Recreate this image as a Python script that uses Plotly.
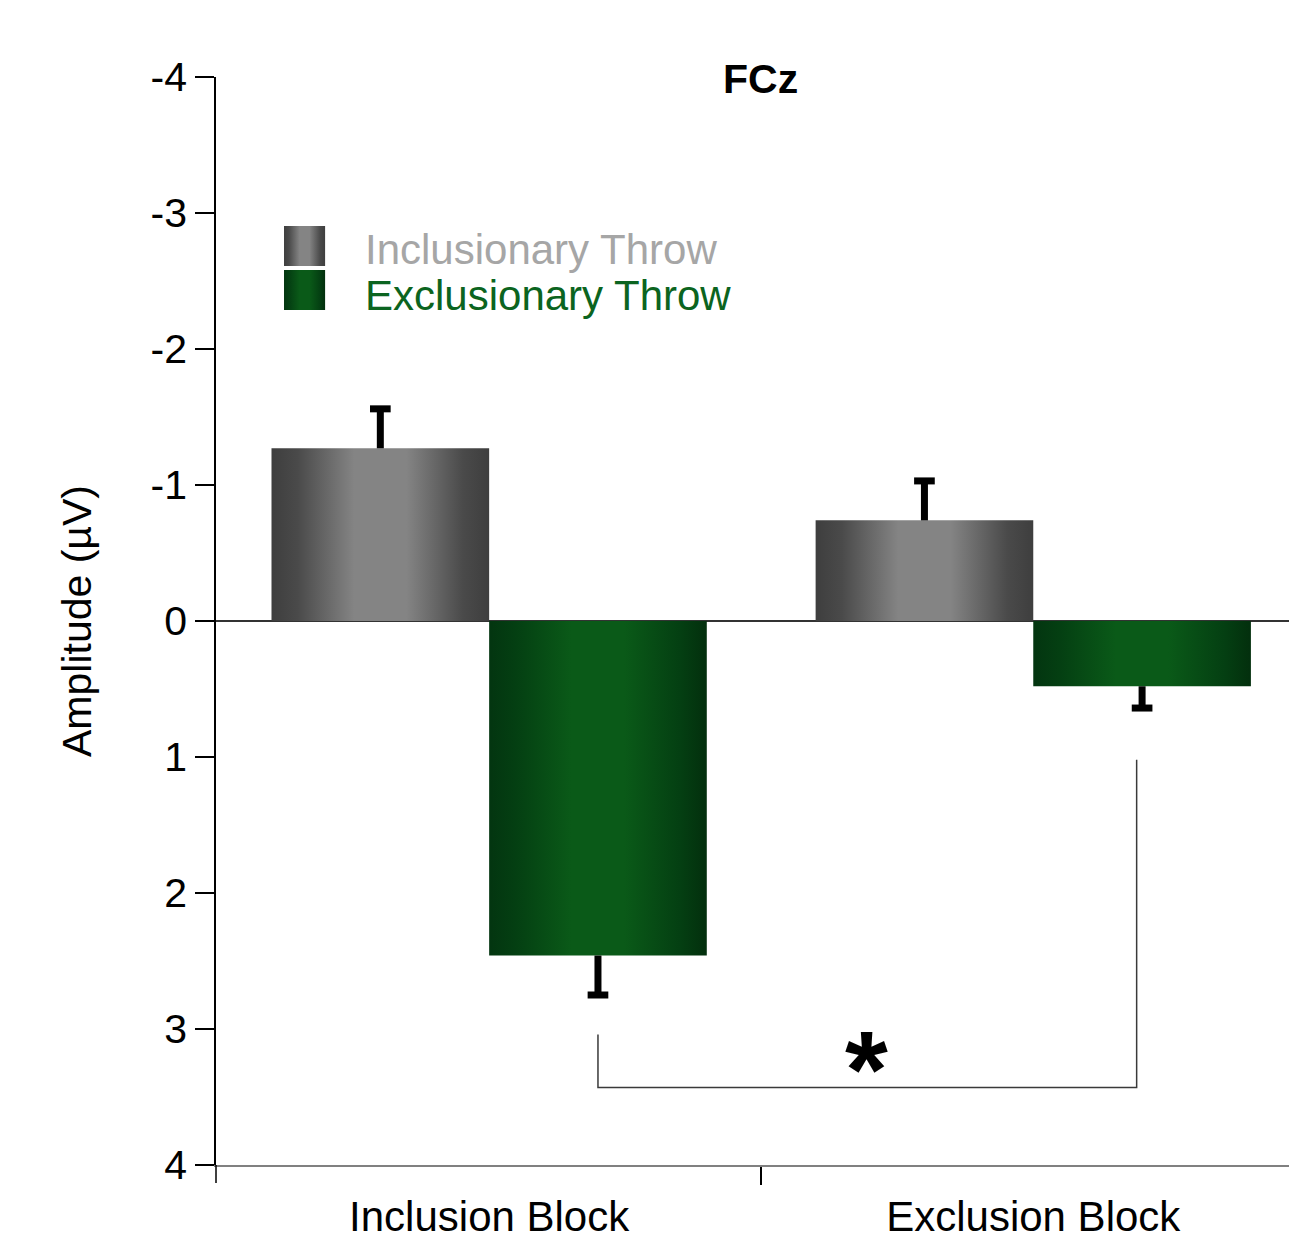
import plotly.graph_objects as go

# ---- data ----
blocks = ["Inclusion Block", "Exclusion Block"]
series = ["Inclusionary Throw", "Exclusionary Throw"]
inclusionary_vals = [-1.27, -0.74]
inclusionary_err = [0.29, 0.29]
exclusionary_vals = [2.46, 0.48]
exclusionary_err = [0.29, 0.16]
y_ticks = [-4, -3, -2, -1, 0, 1, 2, 3, 4]
y_tick_labels = ["-4", "-3", "-2", "-1", "0", "1", "2", "3", "4"]

# ---- style ----
FONT = "Liberation Sans, Arial, sans-serif"
BAR_W = 0.40
CAP_HALF = 0.019
gray_scale = [[0, "#3e3e3e"], [0.12, "#4a4a4a"], [0.38, "#848484"], [0.62, "#848484"],
              [0.88, "#4a4a4a"], [1, "#3e3e3e"]]
green_scale = [[0, "#033510"], [0.12, "#043f12"], [0.38, "#0a5a18"], [0.62, "#0a5a18"],
               [0.88, "#043f12"], [1, "#032f0d"]]
gray_text = "#a6a6a6"
green_text = "#0b6420"

fig = go.Figure()


def add_rect(x0, x1, y0, y1, scale):
    fig.add_trace(go.Scatter(
        x=[x0, x1, x1, x0, x0], y=[y0, y0, y1, y1, y0],
        mode="lines", fill="toself", line=dict(width=0),
        fillgradient=dict(type="horizontal", colorscale=scale),
        hoverinfo="skip", showlegend=False))


# bars
for i in range(len(blocks)):
    add_rect(i - BAR_W, i, 0, inclusionary_vals[i], gray_scale)
    add_rect(i, i + BAR_W, 0, exclusionary_vals[i], green_scale)

# error bars (one-sided, away from zero)
ex, ey = [], []
for i in range(len(blocks)):
    for xc, v, e in [(i - BAR_W / 2, inclusionary_vals[i], inclusionary_err[i]),
                     (i + BAR_W / 2, exclusionary_vals[i], exclusionary_err[i])]:
        end = v - e if v < 0 else v + e
        ex += [xc, xc, None, xc - CAP_HALF, xc + CAP_HALF, None]
        ey += [v, end, None, end, end, None]
fig.add_trace(go.Scatter(x=ex, y=ey, mode="lines", line=dict(color="black", width=7),
                         hoverinfo="skip", showlegend=False))

# significance bracket
fig.add_trace(go.Scatter(x=[0 + BAR_W / 2, 0 + BAR_W / 2, 1.19, 1.19],
                         y=[3.04, 3.43, 3.43, 1.02], mode="lines",
                         line=dict(color="#3a3a3a", width=1.5),
                         hoverinfo="skip", showlegend=False))
fig.add_annotation(x=0.693, y=3.29, text="<b>*</b>", showarrow=False,
                   font=dict(family=FONT, size=110, color="black"), yanchor="middle")

# legend (manual)
add_rect(-0.377, -0.3015, -2.904, -2.610, gray_scale)
add_rect(-0.377, -0.3015, -2.581, -2.287, green_scale)
fig.add_annotation(x=-0.232, y=-2.735, text=series[0], showarrow=False, xanchor="left",
                   yanchor="middle", font=dict(family=FONT, size=42, color=gray_text))
fig.add_annotation(x=-0.232, y=-2.395, text=series[1], showarrow=False, xanchor="left",
                   yanchor="middle", font=dict(family=FONT, size=42, color=green_text))

# title
fig.add_annotation(xref="paper", yref="paper", x=0.507, y=1.0, text="<b>FCz</b>",
                   showarrow=False, yanchor="middle", yshift=-2,
                   font=dict(family=FONT, size=41, color="black"))

# y-axis line extension below x axis
fig.add_shape(type="line", xref="paper", yref="paper", x0=0, x1=0, y0=0, y1=-18 / 1088,
              line=dict(color="black", width=1.5))

fig.update_layout(
    width=1289, height=1245,
    margin=dict(l=216, r=0, t=77, b=80),
    paper_bgcolor="white", plot_bgcolor="white",
    font=dict(family=FONT, size=41, color="black"),
    showlegend=False,
    xaxis=dict(range=[-0.502, 1.47], tickmode="array", tickvals=[0, 1], ticktext=blocks,
               ticks="", showgrid=False, zeroline=False, showline=True,
               linecolor="#808080", linewidth=2, ticklabelstandoff=14,
               tickfont=dict(family=FONT, size=42, color="black"),
               minor=dict(tickmode="array", tickvals=[0.5], ticks="outside", ticklen=18,
                          tickcolor="black", tickwidth=2, showgrid=False)),
    yaxis=dict(range=[4, -4], tickmode="array", tickvals=y_ticks, ticktext=y_tick_labels,
               ticks="outside", ticklen=19, tickcolor="black", tickwidth=1.5,
               showgrid=False, showline=True, linecolor="black", linewidth=1.5,
               zeroline=True, zerolinecolor="#333333", zerolinewidth=2,
               tickfont=dict(family=FONT, size=41, color="black"),
               title=dict(text="Amplitude (µV)", standoff=46,
                          font=dict(family=FONT, size=41, color="black"))),
)

fig.write_html("out.html", config={"displayModeBar": False},
               post_script="document.body.style.margin='0';document.body.style.overflow='hidden';")
